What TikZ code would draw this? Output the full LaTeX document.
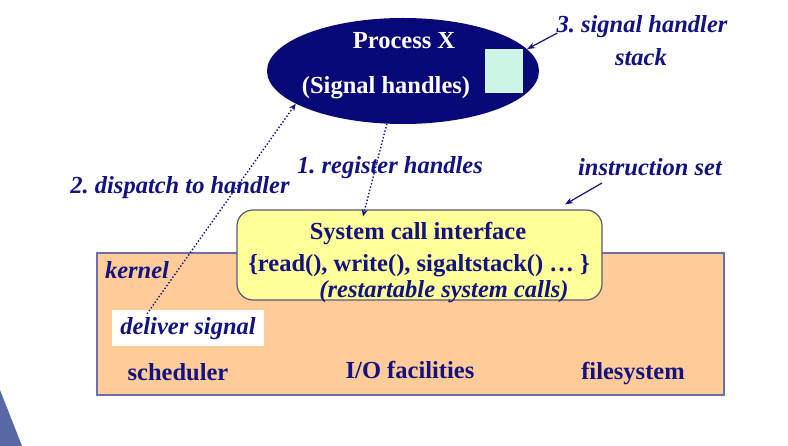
\documentclass[tikz,border=0pt]{standalone}
\usepackage{fontspec}
\setmainfont{Liberation Serif}
\usetikzlibrary{shapes.geometric,arrows.meta}
\definecolor{navytext}{RGB}{18,18,128}
\definecolor{procfill}{RGB}{8,8,120}
\definecolor{kernfill}{RGB}{255,204,153}
\definecolor{kernline}{RGB}{110,110,170}
\definecolor{yelfill}{RGB}{255,255,153}
\definecolor{yelline}{RGB}{90,90,120}
\definecolor{sqfill}{RGB}{204,245,230}
\definecolor{decor}{RGB}{88,104,165}
\tikzset{
  bigtxt/.style={font=\fontsize{24.5}{28}\selectfont\bfseries\frenchspacing, inner sep=0pt, text=navytext},
  itxt/.style={font=\fontsize{24.5}{28}\selectfont\bfseries\itshape\frenchspacing, inner sep=0pt, text=navytext},
  wtxt/.style={font=\fontsize{24.5}{28}\selectfont\bfseries, inner sep=0pt, text=white},
  dotarrow/.style={draw=navytext, line width=1.4pt, dotted, -{Stealth[length=7pt,width=6pt]}},
  solarrow/.style={draw=navytext, line width=1.2pt, -{Stealth[length=8pt,width=6pt]}}
}
\begin{document}
\begin{tikzpicture}[x=1pt,y=-1pt]
\useasboundingbox (0,0) rectangle (788,446);
\fill[white] (0,0) rectangle (788,446);
% slide decoration
\fill[decor] (0,390) -- (22,446) -- (0,446) -- cycle;

% kernel box
\node[draw=kernline, line width=1.5pt, fill=kernfill, minimum width=627pt, minimum height=142pt, inner sep=0pt] (kern) at (410.5,324) {};
% system call interface box
\node[draw=yelline, line width=1.2pt, fill=yelfill, rounded corners=16pt, minimum width=365pt, minimum height=90pt, inner sep=0pt] (sci) at (419.5,255) {};
% deliver signal box
\node[fill=white, minimum width=152pt, minimum height=36pt, inner sep=0pt] (deliver) at (188,328) {};
\node[itxt] (delivertxt) at (188,329) {deliver signal};

% process ellipse
\node[ellipse, fill=procfill, minimum width=272pt, minimum height=106pt, inner sep=0pt] (px) at (403,71) {};
\node[draw=sqfill!80!white, fill=sqfill, minimum width=37pt, minimum height=43pt, inner sep=0pt] (stk) at (503.5,70.5) {};
\node[wtxt] (ptitle) at (404,41) {Process X};
\node[wtxt] (psub) at (386,88) {(Signal handles)};

% labels
\node[itxt] (lab3) at (642,27) {3. signal handler};
\node[itxt] (lab3b) at (641,57) {stack};
\node[itxt] (lab1) at (390,168) {1. register handles};
\node[itxt] (lab2) at (180,188) {2. dispatch to handler};
\node[itxt] (instr) at (650,167) {instruction set};
\node[itxt] (kerntxt) at (137,270) {kernel};

% system call texts
\node[bigtxt] (scititle) at (418,234) {System call interface};
\node[bigtxt] (scilist) at (419,266) {\{read(), write(), sigaltstack() \dots\ \}};
\node[itxt] (scirest) at (444,292) {(restartable system calls)};

% bottom labels
\node[bigtxt, anchor=base] (sched) at (178,381) {scheduler};
\node[bigtxt, anchor=base] (iofac) at (410,379) {I/O facilities};
\node[bigtxt, anchor=base] (fsys) at (633,380) {filesystem};

% connectors
\draw[dotarrow] ([xshift=-41pt,yshift=-4pt]deliver.north) -- (px.197);
\draw[dotarrow] (px.253.5) -- ([xshift=-56.5pt,yshift=-7pt]sci.north);
\draw[solarrow] ([xshift=1pt,yshift=-6pt]lab3.west) -- (px.10.7);
\draw[solarrow] ([xshift=-48pt,yshift=-16pt]instr.center) -- ([xshift=145.5pt,yshift=5pt]sci.north);
\end{tikzpicture}
\end{document}
